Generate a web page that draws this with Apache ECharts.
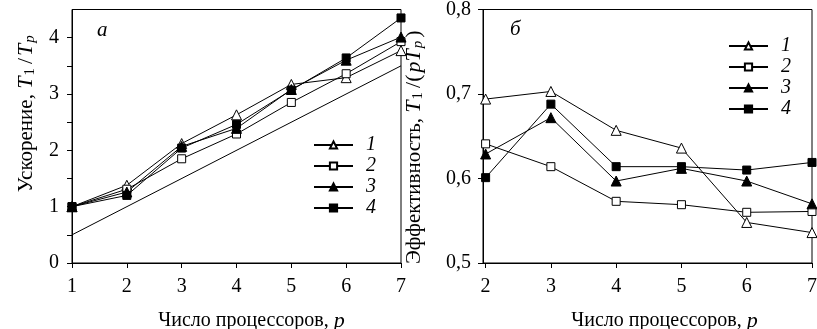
<!DOCTYPE html>
<html><head><meta charset="utf-8">
<script src="https://cdn.jsdelivr.net/npm/echarts@6/dist/echarts.min.js"></script>
<style>html,body{margin:0;padding:0;background:#fff}#c{width:817px;height:329px}</style>
</head><body><div id="c"></div>
<script>
// ---- data ----
var procA = [1, 2, 3, 4, 5, 6, 7];
var speedup1 = [1.0, 1.38, 2.12, 2.63, 3.17, 3.29, 3.77];
var speedup2 = [1.0, 1.31, 1.85, 2.29, 2.85, 3.36, 3.93];
var speedup3 = [1.0, 1.26, 2.07, 2.39, 3.08, 3.60, 4.01];
var speedup4 = [1.0, 1.20, 2.04, 2.46, 3.07, 3.64, 4.35];
var idealP = [1, 7];
var idealS = [0.5, 3.5];

var procB = [2, 3, 4, 5, 6, 7];
var eff1 = [0.694, 0.703, 0.657, 0.636, 0.548, 0.536];
var eff2 = [0.641, 0.614, 0.573, 0.569, 0.560, 0.561];
var eff3 = [0.629, 0.672, 0.597, 0.612, 0.597, 0.570];
var eff4 = [0.601, 0.688, 0.614, 0.614, 0.610, 0.619];

var seriesNames = ['1', '2', '3', '4'];
var xTicksA = [1, 2, 3, 4, 5, 6, 7];
var xTicksB = [2, 3, 4, 5, 6, 7];
var panelLabels = ['а', 'б'];

// ---- styles ----
var FONT = '"Liberation Serif", "DejaVu Serif", serif';
var styles = [
  {symbol: 'triangle', size: 10, fill: '#fff'},
  {symbol: 'rect', size: 8, fill: '#fff'},
  {symbol: 'triangle', size: 10, fill: '#000'},
  {symbol: 'rect', size: 8, fill: '#000'}
];
function zip(xs, ys) { return xs.map(function (x, i) { return [x, ys[i]]; }); }

function mkSeries(idx, xi, xs, ys) {
  var s = styles[idx];
  return {
    type: 'line', name: seriesNames[idx], xAxisIndex: xi, yAxisIndex: xi,
    data: zip(xs, ys), symbol: s.symbol, symbolSize: s.size, showAllSymbol: true,
    lineStyle: {color: '#000', width: 1},
    itemStyle: {color: s.fill, borderColor: '#000', borderWidth: 1},
    emphasis: {disabled: true}, animation: false, z: 3
  };
}

var axisLineStyle = {show: true, lineStyle: {color: '#000', width: 1}};
var labelStyle = {color: '#000', fontFamily: FONT, fontSize: 20};
var nameRich = {
  i: {fontStyle: 'italic', fontFamily: FONT, fontSize: 22, color: '#000'},
  sl: {fontFamily: FONT, fontSize: 22, color: '#000', padding: [0, 2, 0, 2]},
  sub: {fontFamily: FONT, fontSize: 15, color: '#000', verticalAlign: 'bottom', padding: [9, 2, 0, 1]},
  isub: {fontStyle: 'italic', fontFamily: FONT, fontSize: 15, color: '#000', verticalAlign: 'bottom', padding: [9, 1, 0, 1]}
};

var chart = echarts.init(document.getElementById('c'), null, {renderer: 'canvas'});
var ser = [];
[speedup1, speedup2, speedup3, speedup4].forEach(function (d, i) { ser.push(mkSeries(i, 0, procA, d)); });
ser.push({type: 'line', name: 'ideal', xAxisIndex: 0, yAxisIndex: 0, data: zip(idealP, idealS),
  symbol: 'none', lineStyle: {color: '#000', width: 1}, emphasis: {disabled: true}, animation: false, z: 2});
[eff1, eff2, eff3, eff4].forEach(function (d, i) { ser.push(mkSeries(i, 1, procB, d)); });

var legendCommon = {
  orient: 'vertical', itemWidth: 39, itemHeight: 9, itemGap: 1, padding: 0, selectedMode: false,
  data: seriesNames,
  textStyle: {fontFamily: FONT, fontStyle: 'italic', fontSize: 20, color: '#000', padding: [0, 0, 0, 8]}
};

chart.setOption({
  backgroundColor: '#fff',
  animation: false,
  title: [
    {text: panelLabels[0], left: 97, top: 20, padding: 0, textStyle: {fontFamily: FONT, fontStyle: 'italic', fontWeight: 'normal', fontSize: 21, color: '#000'}},
    {text: panelLabels[1], left: 510, top: 19, padding: 0, textStyle: {fontFamily: FONT, fontStyle: 'italic', fontWeight: 'normal', fontSize: 21, color: '#000'}}
  ],
  grid: [
    {left: 72, top: 9.5, width: 329, height: 253.5, show: true, borderColor: '#000', borderWidth: 1, backgroundColor: 'transparent', containLabel: false, outerBoundsMode: 'none'},
    {left: 483, top: 9.5, width: 329, height: 253.5, show: true, borderColor: '#000', borderWidth: 1, backgroundColor: 'transparent', containLabel: false, outerBoundsMode: 'none'}
  ],
  legend: [
    Object.assign({left: 313, top: 135}, legendCommon),
    Object.assign({left: 728, top: 36}, legendCommon)
  ],
  xAxis: [
    {type: 'value', gridIndex: 0, min: 1, max: 7, interval: 1,
      axisLine: axisLineStyle, axisTick: {show: true, length: 5, lineStyle: {color: '#000'}},
      splitLine: {show: false}, axisLabel: Object.assign({margin: 14}, labelStyle),
      name: 'Число процессоров, {i|p}', nameLocation: 'middle', nameGap: 47,
      nameTextStyle: {fontFamily: FONT, fontSize: 20, color: '#000', padding: [0, 0, 0, 30], rich: nameRich}},
    {type: 'value', gridIndex: 1, min: 1.96, max: 7,
      axisLine: axisLineStyle, axisTick: {show: true, length: 5, lineStyle: {color: '#000'}, customValues: xTicksB},
      splitLine: {show: false}, axisLabel: Object.assign({margin: 14, customValues: xTicksB}, labelStyle),
      name: 'Число процессоров, {i|p}', nameLocation: 'middle', nameGap: 47,
      nameTextStyle: {fontFamily: FONT, fontSize: 20, color: '#000', padding: [0, 0, 0, 34], rich: nameRich}}
  ],
  yAxis: [
    {type: 'value', gridIndex: 0, min: 0, max: 4.5, interval: 0.5,
      axisLine: axisLineStyle, axisTick: {show: true, length: 5, lineStyle: {color: '#000'}},
      splitLine: {show: false},
      axisLabel: Object.assign({margin: 13, showMaxLabel: false, formatter: function (v) { return Math.abs(v - Math.round(v)) < 1e-9 ? String(Math.round(v)) : ''; }}, labelStyle),
      name: 'Ускорение, {i|T}{sub|1}{sl|/}{i|T}{isub|p}', nameLocation: 'middle', nameGap: 34,
      nameTextStyle: {fontFamily: FONT, fontSize: 21, color: '#000', padding: [0, 0, 0, 46], rich: nameRich}},
    {type: 'value', gridIndex: 1, min: 0.5, max: 0.8, interval: 0.1,
      axisLine: axisLineStyle, axisTick: {show: true, length: 5, lineStyle: {color: '#000'}},
      splitLine: {show: false},
      axisLabel: Object.assign({margin: 12, formatter: function (v) { return v.toFixed(1).replace('.', ','); }}, labelStyle),
      name: 'Эффективность, {i|T}{sub|1}{sl|/(}{i|pT}{isub|p}{sl|)}', nameLocation: 'middle', nameGap: 57,
      nameTextStyle: {fontFamily: FONT, fontSize: 21, color: '#000', padding: [0, 20, 0, 0], rich: nameRich}}
  ],
  series: ser
});
</script>
</body></html>
